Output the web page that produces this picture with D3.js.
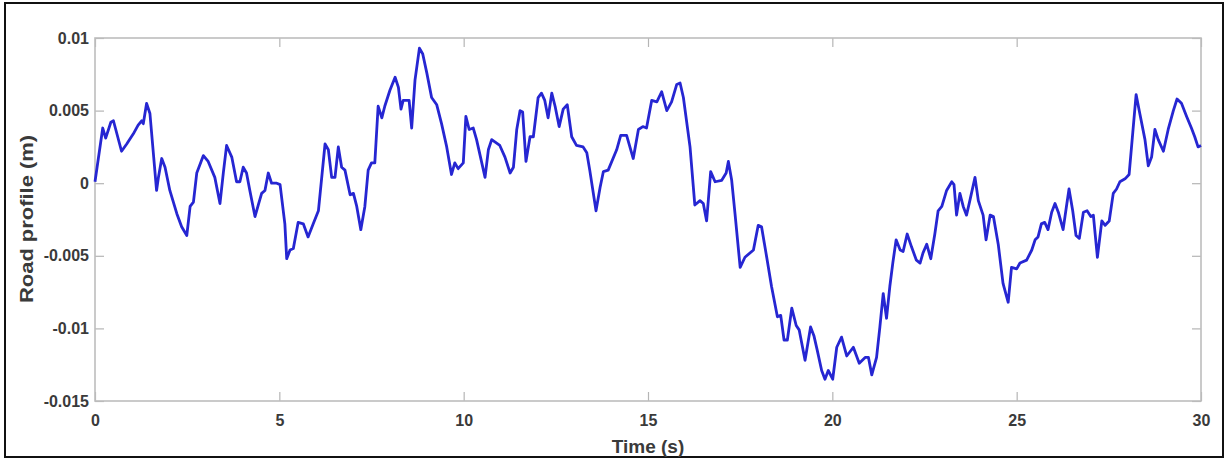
<!DOCTYPE html>
<html>
<head>
<meta charset="utf-8">
<script src="https://d3js.org/d3.v7.min.js"></script>
<style>
body { margin: 0; background: #fff; }
.tick text { font-family: "Liberation Sans", Arial, sans-serif; font-size: 16px; font-weight: bold; fill: #3a3a3a; }
.tick line { stroke: #b5b5b5; stroke-width: 1.2px; }
.line { fill: none; stroke: #2626d2; stroke-width: 2.8px; stroke-linejoin: round; }
.label { font-family: "Liberation Sans", Arial, sans-serif; font-size: 19px; font-weight: bold; fill: #3a3a3a; }
</style>
</head>
<body>
<svg width="1226" height="459"></svg>
<script>
// road profile samples: [time (s), profile (m)]
var roadProfile = [
  [0,0.0001],[0.21,0.0038],[0.29,0.0031],[0.43,0.0042],[0.50,0.0043],[0.72,0.0022],[0.86,0.0027],[1.04,0.0034],
  [1.17,0.0040],[1.27,0.0043],[1.31,0.0041],[1.40,0.0055],[1.49,0.0048],[1.67,-0.0005],[1.72,0.0004],[1.81,0.0017],
  [1.90,0.0011],[2.03,-0.0005],[2.22,-0.0021],[2.35,-0.0030],[2.49,-0.0036],[2.58,-0.0016],[2.67,-0.0013],[2.76,0.0007],
  [2.94,0.0019],[3.07,0.0015],[3.25,0.0004],[3.39,-0.0014],[3.48,0.0007],[3.57,0.0026],[3.71,0.0018],[3.84,0.0001],
  [3.93,0.0001],[4.02,0.0011],[4.11,0.0007],[4.20,-0.0005],[4.34,-0.0023],[4.43,-0.0015],[4.52,-0.0007],[4.61,-0.0005],
  [4.70,0.0007],[4.79,0.0000],[4.93,0.0000],[5.02,-0.0001],[5.15,-0.0028],[5.20,-0.0052],[5.29,-0.0046],[5.38,-0.0045],
  [5.51,-0.0027],[5.65,-0.0028],[5.78,-0.0037],[5.92,-0.0028],[6.06,-0.0019],[6.24,0.0027],[6.33,0.0023],[6.42,0.0004],
  [6.51,0.0004],[6.60,0.0025],[6.69,0.0011],[6.78,0.0009],[6.92,-0.0008],[7.01,-0.0007],[7.10,-0.0016],[7.21,-0.0032],
  [7.32,-0.0016],[7.41,0.0009],[7.50,0.0014],[7.59,0.0014],[7.68,0.0053],[7.78,0.0045],[7.86,0.0053],[8.00,0.0064],
  [8.14,0.0073],[8.23,0.0066],[8.30,0.0051],[8.36,0.0057],[8.52,0.0057],[8.59,0.0038],[8.68,0.0071],[8.80,0.0093],
  [8.89,0.0089],[9.00,0.0076],[9.13,0.0059],[9.27,0.0054],[9.40,0.0041],[9.54,0.0025],[9.67,0.0006],[9.76,0.0014],
  [9.85,0.0010],[9.99,0.0014],[10.06,0.0046],[10.15,0.0037],[10.26,0.0038],[10.35,0.0030],[10.58,0.0004],[10.67,0.0023],
  [10.76,0.0030],[10.98,0.0026],[11.12,0.0018],[11.26,0.0007],[11.35,0.0011],[11.44,0.0037],[11.53,0.0050],[11.60,0.0049],
  [11.69,0.0015],[11.80,0.0032],[11.89,0.0032],[12.02,0.0059],[12.11,0.0062],[12.20,0.0057],[12.29,0.0045],[12.39,0.0062],
  [12.48,0.0053],[12.59,0.0039],[12.70,0.0051],[12.81,0.0054],[12.93,0.0032],[13.06,0.0026],[13.24,0.0025],[13.34,0.0021],
  [13.42,0.0009],[13.59,-0.0019],[13.70,-0.0003],[13.79,0.0008],[13.92,0.0009],[14.15,0.0023],[14.26,0.0033],[14.42,0.0033],
  [14.60,0.0017],[14.74,0.0037],[14.86,0.0039],[14.96,0.0038],[15.10,0.0057],[15.24,0.0056],[15.37,0.0063],[15.51,0.0050],
  [15.64,0.0056],[15.78,0.0068],[15.87,0.0069],[15.96,0.0059],[16.14,0.0025],[16.27,-0.0015],[16.41,-0.0012],[16.50,-0.0014],
  [16.59,-0.0026],[16.70,0.0008],[16.82,0.0001],[17.00,0.0002],[17.12,0.0007],[17.18,0.0015],[17.27,0.0002],[17.36,-0.0021],
  [17.50,-0.0058],[17.63,-0.0051],[17.86,-0.0046],[17.99,-0.0029],[18.08,-0.0030],[18.22,-0.0051],[18.35,-0.0071],[18.51,-0.0092],
  [18.60,-0.0091],[18.69,-0.0108],[18.78,-0.0108],[18.90,-0.0086],[19.02,-0.0098],[19.10,-0.0101],[19.26,-0.0122],[19.41,-0.0099],
  [19.50,-0.0105],[19.59,-0.0115],[19.71,-0.0129],[19.80,-0.0135],[19.89,-0.0129],[20.01,-0.0135],[20.12,-0.0113],[20.25,-0.0106],
  [20.39,-0.0119],[20.57,-0.0113],[20.73,-0.0124],[20.89,-0.0120],[20.98,-0.0120],[21.07,-0.0132],[21.20,-0.0120],[21.29,-0.0099],
  [21.38,-0.0076],[21.47,-0.0093],[21.56,-0.0071],[21.64,-0.0055],[21.73,-0.0039],[21.84,-0.0046],[21.92,-0.0047],[22.03,-0.0035],
  [22.15,-0.0044],[22.28,-0.0053],[22.38,-0.0055],[22.46,-0.0048],[22.56,-0.0042],[22.67,-0.0052],[22.78,-0.0035],[22.87,-0.0019],
  [22.97,-0.0016],[23.10,-0.0005],[23.24,0.0001],[23.30,-0.0001],[23.37,-0.0022],[23.46,-0.0007],[23.55,-0.0016],[23.64,-0.0022],
  [23.73,-0.0012],[23.87,0.0004],[23.96,-0.0012],[24.09,-0.0022],[24.17,-0.0039],[24.28,-0.0022],[24.37,-0.0023],[24.50,-0.0042],
  [24.63,-0.0069],[24.77,-0.0082],[24.86,-0.0058],[25.00,-0.0059],[25.09,-0.0055],[25.27,-0.0053],[25.41,-0.0046],[25.50,-0.0039],
  [25.58,-0.0037],[25.67,-0.0028],[25.76,-0.0027],[25.85,-0.0032],[25.95,-0.0020],[26.04,-0.0014],[26.13,-0.0020],[26.26,-0.0032],
  [26.35,-0.0016],[26.42,-0.0004],[26.52,-0.0019],[26.61,-0.0036],[26.70,-0.0038],[26.81,-0.0020],[26.91,-0.0019],[27.01,-0.0023],
  [27.08,-0.0022],[27.19,-0.0051],[27.31,-0.0026],[27.40,-0.0029],[27.51,-0.0026],[27.62,-0.0007],[27.71,-0.0004],[27.80,0.0001],
  [27.94,0.0003],[28.05,0.0006],[28.15,0.0035],[28.24,0.0061],[28.34,0.0048],[28.48,0.0030],[28.57,0.0012],[28.66,0.0018],
  [28.75,0.0037],[28.84,0.0030],[28.98,0.0022],[29.11,0.0037],[29.25,0.0050],[29.35,0.0058],[29.47,0.0055],[29.61,0.0046],
  [29.74,0.0038],[29.83,0.0032],[29.92,0.0025],[30.0,0.0026]
];

var xTicks = [0, 5, 10, 15, 20, 25, 30];
var yTicks = [0.01, 0.005, 0, -0.005, -0.01, -0.015];
var yTickLabels = ["0.01", "0.005", "0", "-0.005", "-0.01", "-0.015"];

var svg = d3.select("svg"),
    margin = {top: 38, right: 25, bottom: 58, left: 95},
    width = +svg.attr("width") - margin.left - margin.right,
    height = +svg.attr("height") - margin.top - margin.bottom;

// outer frame
svg.append("rect")
    .attr("x", 5).attr("y", 3)
    .attr("width", 1218).attr("height", 454)
    .attr("fill", "#fff")
    .attr("stroke", "#111")
    .attr("stroke-width", 2);

var g = svg.append("g").attr("transform", "translate(" + margin.left + "," + margin.top + ")");

var x = d3.scaleLinear().domain([0, 30]).range([0, width]);
var y = d3.scaleLinear().domain([-0.015, 0.01]).range([height, 0]);

g.append("g")
    .attr("transform", "translate(0," + height + ")")
    .call(d3.axisBottom(x).tickValues(xTicks).tickSize(-9).tickPadding(14))
    .call(function(a) { a.select(".domain").remove(); });

g.append("g")
    .call(d3.axisTop(x).tickValues(xTicks).tickSize(-9).tickFormat(""))
    .call(function(a) { a.select(".domain").remove(); });

g.append("g")
    .call(d3.axisLeft(y).tickValues(yTicks).tickSize(-9).tickPadding(6)
        .tickFormat(function(d, i) { return yTickLabels[i]; }))
    .call(function(a) { a.select(".domain").remove(); });

g.append("g")
    .attr("transform", "translate(" + width + ",0)")
    .call(d3.axisRight(y).tickValues(yTicks).tickSize(-9).tickFormat(""))
    .call(function(a) { a.select(".domain").remove(); });

// axes box
g.append("rect")
    .attr("width", width).attr("height", height)
    .attr("fill", "none")
    .attr("stroke", "#bdbdbd")
    .attr("stroke-width", 1.6);

var line = d3.line()
    .x(function(d) { return x(d[0]); })
    .y(function(d) { return y(d[1]); });

g.append("path")
    .datum(roadProfile)
    .attr("class", "line")
    .attr("d", line);

svg.append("text")
    .attr("class", "label")
    .attr("transform", "translate(33,219) rotate(-90)")
    .attr("text-anchor", "middle")
    .attr("textLength", 168)
    .attr("lengthAdjust", "spacingAndGlyphs")
    .text("Road profile (m)");

svg.append("text")
    .attr("class", "label")
    .attr("x", margin.left + x(15))
    .attr("y", 453)
    .attr("text-anchor", "middle")
    .text("Time (s)");
</script>
</body>
</html>
